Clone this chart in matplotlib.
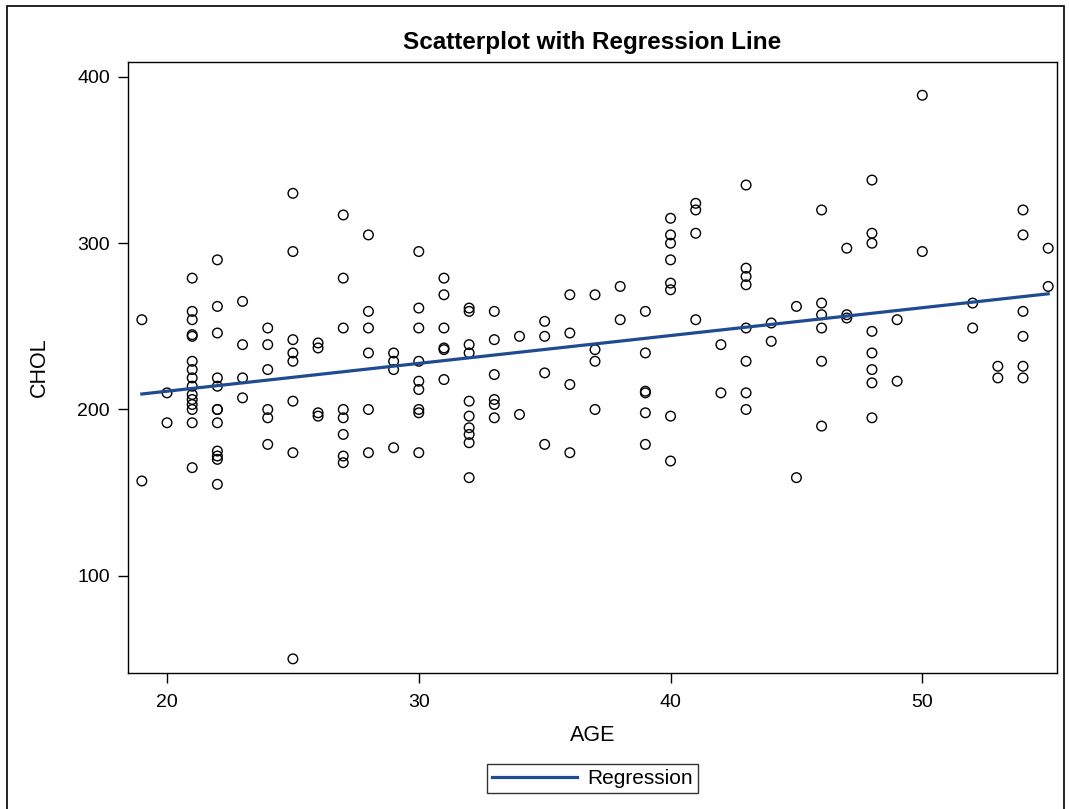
import numpy as np
import matplotlib
matplotlib.use("Agg")
import matplotlib.pyplot as plt
from matplotlib.patches import Rectangle

plt.rcParams['font.family'] = ['Liberation Sans', 'DejaVu Sans']

# Data (AGE, CHOL)
ages_by_group = {
    19: [254, 157],
    20: [210, 192],
    21: [279, 259, 254, 245, 244, 229, 224, 219, 214, 209, 206, 203, 200, 192, 165],
    22: [290, 262, 246, 219, 214, 200, 200, 192, 175, 172, 170, 155],
    23: [265, 239, 219, 207],
    24: [249, 239, 224, 200, 195, 179],
    25: [330, 295, 242, 234, 229, 205, 174, 50],
    26: [240, 237, 198, 196],
    27: [317, 279, 249, 200, 195, 185, 172, 168],
    28: [305, 259, 249, 234, 200, 174],
    29: [234, 229, 224, 177],
    30: [295, 261, 249, 229, 217, 212, 200, 198, 174],
    31: [279, 269, 249, 237, 236, 218],
    32: [261, 259, 239, 234, 205, 196, 189, 185, 180, 159],
    33: [259, 242, 221, 206, 203, 195],
    34: [244, 197],
    35: [253, 244, 222, 179],
    36: [269, 246, 215, 174],
    37: [269, 236, 229, 200],
    38: [274, 254],
    39: [259, 234, 211, 210, 198, 179],
    40: [315, 305, 300, 290, 276, 272, 196, 169],
    41: [324, 320, 306, 254],
    42: [239, 210],
    43: [335, 285, 280, 275, 249, 229, 210, 200],
    44: [252, 241],
    45: [262, 159],
    46: [320, 264, 257, 249, 229, 190],
    47: [297, 257, 255],
    48: [338, 306, 300, 247, 234, 224, 216, 195],
    49: [254, 217],
    50: [389, 295],
    52: [264, 249],
    53: [226, 219],
    54: [320, 305, 259, 244, 226, 219],
    55: [297, 274],
}
age = np.array([a for a, vals in ages_by_group.items() for _ in vals], dtype=float)
chol = np.array([v for a, vals in ages_by_group.items() for v in vals], dtype=float)

x_ticks = [20, 30, 40, 50]
y_ticks = [100, 200, 300, 400]

W, H = 1069, 809
fig = plt.figure(figsize=(W / 100, H / 100), dpi=100)

# outer frame
fig.patches.append(Rectangle((7 / W, -0.01), (1064 - 7) / W, 1 - 6 / H + 0.01,
                             transform=fig.transFigure, fill=False,
                             edgecolor='black', linewidth=1.2))

ax = fig.add_axes([128 / W, 1 - 673 / H, (1057 - 128) / W, (673 - 62) / H])

ax.scatter(age, chol, s=48, facecolors='none', edgecolors='black',
           linewidths=1.0, zorder=3)

slope, intercept = np.polyfit(age, chol, 1)
xs = np.array([age.min(), age.max()])
ax.plot(xs, intercept + slope * xs, color='#1F4B91', linewidth=2.3,
        label='Regression', zorder=4)

ax.set_xlim(18.45, 55.35)
ax.set_ylim(41.5, 409)
ax.set_xticks(x_ticks)
ax.set_yticks(y_ticks)
ax.tick_params(axis='both', direction='out', length=7, width=1.0,
               labelsize=14, colors='black')
ax.tick_params(axis='x', pad=8)
ax.tick_params(axis='y', pad=6)
for sp in ax.spines.values():
    sp.set_linewidth(1.0)

ax.set_xlabel('AGE', fontsize=15.5, labelpad=10)
ax.set_ylabel('CHOL', fontsize=15.5, labelpad=20)
ax.set_title('Scatterplot with Regression Line', fontsize=17.5,
             fontweight='bold', pad=9)

leg = ax.legend(loc='upper center', bbox_to_anchor=(0.5, -0.149),
                frameon=True, fancybox=False, fontsize=15, handlelength=4.1,
                borderpad=0.25, handletextpad=0.5, borderaxespad=0)
leg.get_frame().set_edgecolor('black')
leg.get_frame().set_linewidth(1.0)

fig.savefig('out.png', dpi=100)
